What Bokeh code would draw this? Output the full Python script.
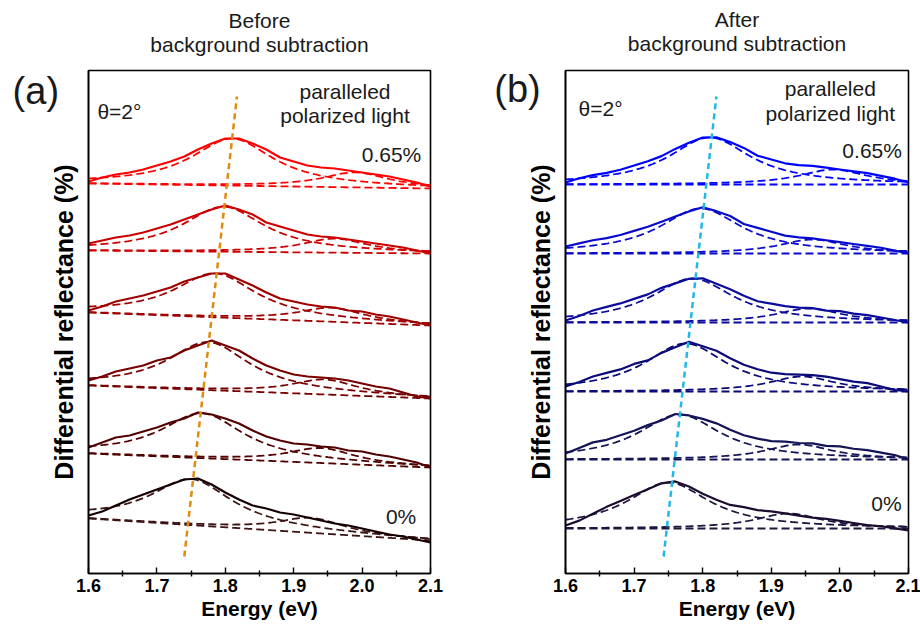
import numpy as np
from bokeh.plotting import figure
from bokeh.layouts import row
from bokeh.models import FixedTicker, Range1d
from bokeh.core.properties import value
from bokeh.embed import file_html
from bokeh.resources import INLINE

# ---------------- data ----------------
energy = [1.60, 1.62, 1.64, 1.66, 1.68, 1.70, 1.72, 1.74, 1.76, 1.78, 1.80, 1.82, 1.84,
          1.86, 1.88, 1.90, 1.92, 1.94, 1.96, 1.98, 2.00, 2.02, 2.04, 2.06, 2.08, 2.10]

# differential reflectance spectra (offset for clarity), top = 0.65 % strain, bottom = 0 %
spec_1 = [3.92, 3.96, 3.99, 4.01, 4.04, 4.08, 4.12, 4.17, 4.24, 4.30, 4.35, 4.35, 4.30,
          4.24, 4.16, 4.12, 4.08, 4.06, 4.05, 4.03, 4.01, 3.99, 3.97, 3.94, 3.91, 3.87]
spec_2 = [3.30, 3.33, 3.36, 3.38, 3.41, 3.45, 3.49, 3.54, 3.59, 3.64, 3.68, 3.64, 3.59,
          3.51, 3.47, 3.43, 3.39, 3.37, 3.36, 3.34, 3.32, 3.30, 3.28, 3.26, 3.23, 3.20]
spec_3 = [2.63, 2.67, 2.72, 2.75, 2.78, 2.82, 2.86, 2.92, 2.96, 3.00, 3.00, 2.94, 2.88,
          2.81, 2.75, 2.72, 2.69, 2.67, 2.66, 2.63, 2.62, 2.59, 2.57, 2.54, 2.51, 2.48]
spec_4 = [1.93, 1.97, 2.02, 2.05, 2.08, 2.13, 2.16, 2.23, 2.28, 2.33, 2.28, 2.23, 2.15,
          2.08, 2.03, 1.99, 1.97, 1.96, 1.95, 1.93, 1.90, 1.87, 1.85, 1.81, 1.77, 1.75]
spec_5 = [1.26, 1.31, 1.36, 1.38, 1.42, 1.46, 1.51, 1.55, 1.61, 1.59, 1.55, 1.50, 1.43,
          1.37, 1.33, 1.30, 1.29, 1.27, 1.26, 1.23, 1.22, 1.19, 1.17, 1.14, 1.11, 1.06]
spec_6 = [0.58, 0.62, 0.68, 0.74, 0.79, 0.84, 0.89, 0.94, 0.95, 0.89, 0.81, 0.74, 0.68,
          0.65, 0.61, 0.59, 0.56, 0.53, 0.50, 0.48, 0.45, 0.42, 0.39, 0.37, 0.34, 0.31]
spectra = [spec_1, spec_2, spec_3, spec_4, spec_5, spec_6]

# linear background (panel a) at 1.6 eV and 2.1 eV, and flat level after subtraction (panel b)
background_start = [3.90, 3.23, 2.61, 1.88, 1.20, 0.55]
background_end = [3.85, 3.20, 2.48, 1.75, 1.06, 0.33]
level_after = [3.89, 3.20, 2.51, 1.82, 1.14, 0.45]

# two-peak fit parameters (Lorentzian): centre (eV), amplitude, half width (eV)
peak1_center = [1.810, 1.797, 1.785, 1.775, 1.766, 1.750]
peak1_amp = [0.47, 0.45, 0.44, 0.48, 0.45, 0.46]
peak1_width = [0.073, 0.073, 0.073, 0.073, 0.073, 0.073]
peak2_center = [1.990, 1.960, 1.955, 1.945, 1.940, 1.925]
peak2_amp = [0.15, 0.14, 0.14, 0.15, 0.15, 0.15]
peak2_width = [0.060, 0.060, 0.060, 0.060, 0.060, 0.060]

# guide line through the peak positions
guide_energy_a = [1.740, 1.817]
guide_energy_b = [1.743, 1.820]
guide_level = [0.17, 4.77]

tick_values = [1.6, 1.7, 1.8, 1.9, 2.0, 2.1]
tick_labels = ["1.6", "1.7", "1.8", "1.9", "2.0", "2.1"]
minor_values = [1.65, 1.75, 1.85, 1.95, 2.05]

colors_a = ["#FF0000", "#CC0000", "#A00000", "#780000", "#520000", "#140000"]
dash_colors_a = ["#FF0000", "#CC0000", "#A00000", "#780000", "#520000", "#3C1414"]
colors_b = ["#0000FF", "#0A0ACC", "#0C0C9C", "#0A0A78", "#141458", "#1E0C30"]
dash_colors_b = ["#0000FF", "#0A0ACC", "#0C0C9C", "#0A0A78", "#141458", "#1E1640"]

FONT = "Liberation Sans"
TXT = "#1a1a1a"


def lorentz(e, c, a, w):
    return a / (1.0 + ((e - c) / w) ** 2)


def make_panel(subtracted, left_border, right_border):
    p = figure(width=460, height=628, output_backend="svg", toolbar_location=None,
               x_range=Range1d(1.6, 2.1), y_range=Range1d(0, 5.03),
               min_border_left=left_border, min_border_right=right_border,
               min_border_top=70, min_border_bottom=55)

    p.xgrid.visible = False
    p.ygrid.visible = False
    p.outline_line_color = "black"
    p.outline_line_width = 1.6
    p.background_fill_color = "white"
    p.border_fill_color = "white"

    xa = p.xaxis[0]
    xa.ticker = FixedTicker(ticks=tick_values, minor_ticks=minor_values)
    xa.major_label_overrides = {v: s for v, s in zip(tick_values, tick_labels)}
    xa.major_label_text_font = FONT
    xa.major_label_text_font_size = "18px"
    xa.major_label_text_font_style = "bold"
    xa.major_label_text_color = "black"
    xa.major_label_standoff = 2
    xa.major_tick_in = 6
    xa.major_tick_out = 0
    xa.minor_tick_in = 3
    xa.minor_tick_out = 3
    xa.axis_line_width = 1.6
    xa.major_tick_line_width = 1.4
    xa.minor_tick_line_width = 1.4
    xa.axis_label = "Energy (eV)"
    xa.axis_label_text_font = FONT
    xa.axis_label_text_font_size = "21px"
    xa.axis_label_text_font_style = "bold"
    xa.axis_label_text_color = "black"
    xa.axis_label_standoff = 2

    ya = p.yaxis[0]
    ya.ticker = FixedTicker(ticks=[])
    ya.major_tick_in = 0
    ya.major_tick_out = 0
    ya.minor_tick_in = 0
    ya.minor_tick_out = 0
    ya.axis_line_width = 1.6
    ya.axis_label = "Differential reflectance (%)"
    ya.axis_label_text_font = FONT
    ya.axis_label_text_font_size = "25px"
    ya.axis_label_text_font_style = "bold"
    ya.axis_label_text_color = "black"
    ya.axis_label_standoff = 11

    e = np.array(energy)
    ef = np.linspace(1.6, 2.1, 251)
    cols = colors_b if subtracted else colors_a
    dcols = dash_colors_b if subtracted else dash_colors_a
    for i in range(6):
        bg = background_start[i] + (background_end[i] - background_start[i]) * (e - 1.6) / 0.5
        bgf = background_start[i] + (background_end[i] - background_start[i]) * (ef - 1.6) / 0.5
        y = np.array(spectra[i])
        if subtracted:
            y = y - bg + level_after[i]
            base = np.full_like(ef, level_after[i])
        else:
            base = bgf
        p1 = base + lorentz(ef, peak1_center[i], peak1_amp[i], peak1_width[i])
        p2 = base + lorentz(ef, peak2_center[i], peak2_amp[i], peak2_width[i])
        for comp in (base, p1, p2):
            p.line(ef, comp, line_color=dcols[i], line_width=1.8, line_dash="8 4")
        p.line(e, y, line_color=cols[i], line_width=2.2)

    ge = guide_energy_b if subtracted else guide_energy_a
    p.line(ge, guide_level, line_color="#20B8E8" if subtracted else "#E08A10",
           line_width=2.5, line_dash="6 4")
    return p


pa = make_panel(False, 88, 30)
pb = make_panel(True, 105, 12)


def txt(p, x, y, s, size="21px", align="left"):
    p.text(x=[x], y=[y], text=[s], text_font=value(FONT), text_font_size=size,
           text_color=TXT, text_align=align, text_baseline="middle", level="overlay")


# panel headings (above the frame)
txt(pa, 1.85, 5.53, "Before", size="21px", align="center")
txt(pa, 1.85, 5.29, "background subtraction", size="21px", align="center")
txt(pb, 1.85, 5.54, "After", size="21px", align="center")
txt(pb, 1.85, 5.30, "background subtraction", size="21px", align="center")

txt(pa, 1.613, 4.62, "θ=2°")
txt(pa, 1.975, 4.82, "paralleled", align="center")
txt(pa, 1.975, 4.58, "polarized light", align="center")
txt(pa, 2.043, 4.19, "0.65%", align="center")
txt(pa, 2.057, 0.57, "0%", align="center")
txt(pa, 1.523, 4.83, "(a)", size="38px", align="center")

txt(pb, 1.619, 4.65, "θ=2°")
txt(pb, 1.986, 4.85, "paralleled", align="center")
txt(pb, 1.986, 4.60, "polarized light", align="center")
txt(pb, 2.047, 4.23, "0.65%", align="center")
txt(pb, 2.068, 0.70, "0%", align="center")
txt(pb, 1.530, 4.85, "(b)", size="38px", align="center")

layout = row(pa, pb)
open("out.html", "w").write(file_html(layout, INLINE))
